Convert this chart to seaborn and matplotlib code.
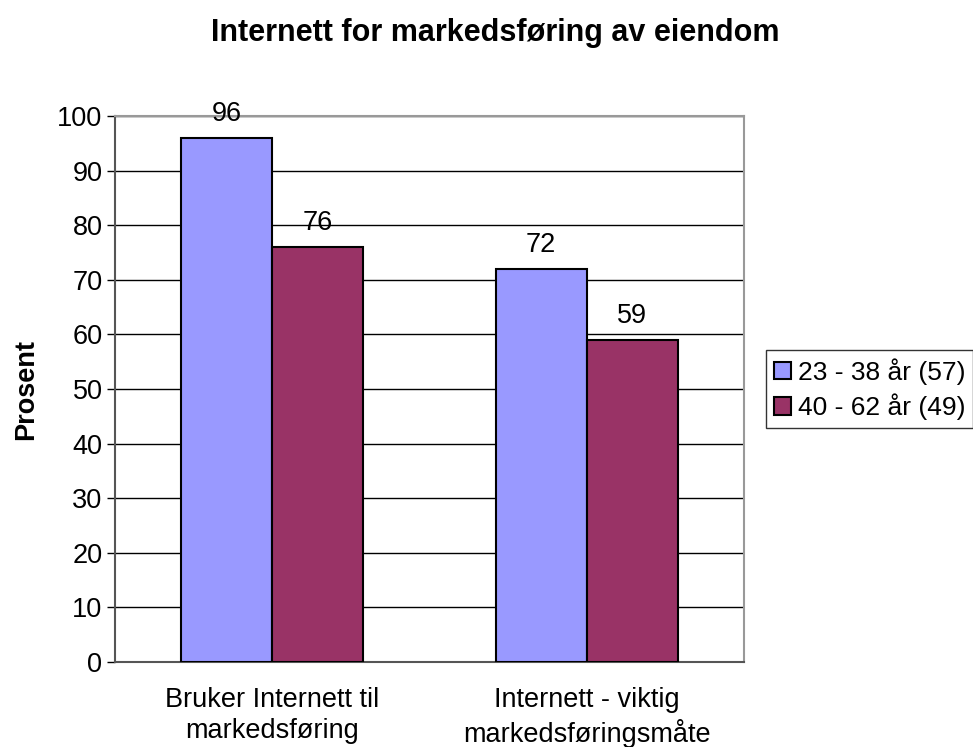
import matplotlib
matplotlib.use("Agg")
import matplotlib.pyplot as plt
import seaborn as sns
import pandas as pd
from matplotlib.patches import Patch

categories = ["Bruker Internett til\nmarkedsføring", "Internett - viktig\nmarkedsføringsmåte"]
series_names = ["23 - 38 år (57)", "40 - 62 år (49)"]
young = [96, 72]
old = [76, 59]
colors = ["#9999FF", "#993366"]

df = pd.DataFrame({
    "Kategori": categories * 2,
    "Gruppe": [series_names[0]] * 2 + [series_names[1]] * 2,
    "Prosent": young + old,
})

sns.set_style("white")
plt.rcParams["font.family"] = ["Liberation Sans", "DejaVu Sans"]
plt.rcParams["text.color"] = "black"
plt.rcParams["xtick.color"] = "black"
plt.rcParams["ytick.color"] = "black"
plt.rcParams["axes.labelcolor"] = "black"

FS = 19.5

fig = plt.figure(figsize=(9.73, 7.47), dpi=100)
ax = fig.add_axes([115 / 973, 1 - 662 / 747, 629 / 973, 546 / 747])

sns.barplot(data=df, x="Kategori", y="Prosent", hue="Gruppe",
            palette=colors, width=0.58, edgecolor="black", linewidth=1.5,
            saturation=1, ax=ax, legend=False, zorder=3)

ax.set_xlim(-0.5, 1.5)
ax.set_ylim(0, 100)
ax.set_yticks(range(0, 101, 10))
ax.yaxis.grid(True, color="black", linewidth=1, zorder=0)
ax.set_axisbelow(True)

ax.set_xticks([0, 1])
ax.set_xticklabels(categories, fontsize=FS, linespacing=1.25)
ax.tick_params(axis="x", length=0, pad=18)
ax.set_xticks([0.5], minor=True)
ax.tick_params(axis="x", which="minor", length=7, width=1, color="#555555", direction="out")
ax.tick_params(axis="y", length=6, width=1, color="black", direction="out", labelsize=FS, pad=3, left=True)

for s in ["top", "right"]:
    ax.spines[s].set_color("#999999")
    ax.spines[s].set_linewidth(1.5)
for s in ["left", "bottom"]:
    ax.spines[s].set_color("#555555")
    ax.spines[s].set_linewidth(1.5)

ax.set_xlabel("")
ax.set_ylabel("Prosent", fontsize=FS, fontweight="bold", labelpad=13)

for container in ax.containers:
    ax.bar_label(container, fmt="%g", padding=8, fontsize=FS)

fig.suptitle("Internett for markedsføring av eiendom", x=495 / 973, y=1 - 33 / 747,
             va="center", fontsize=22, fontweight="bold")

handles = [Patch(facecolor=c, edgecolor="black", linewidth=1.5) for c in colors]
leg = fig.legend(handles, series_names, loc="center left",
                 bbox_to_anchor=(766 / 973, 1 - 389 / 747), fontsize=19,
                 frameon=True, fancybox=False, edgecolor="black",
                 handlelength=0.65, handleheight=0.65, handletextpad=0.25,
                 borderpad=0.3, labelspacing=0.33, borderaxespad=0)
leg.get_frame().set_linewidth(1)

fig.savefig("out.png", dpi=100)
